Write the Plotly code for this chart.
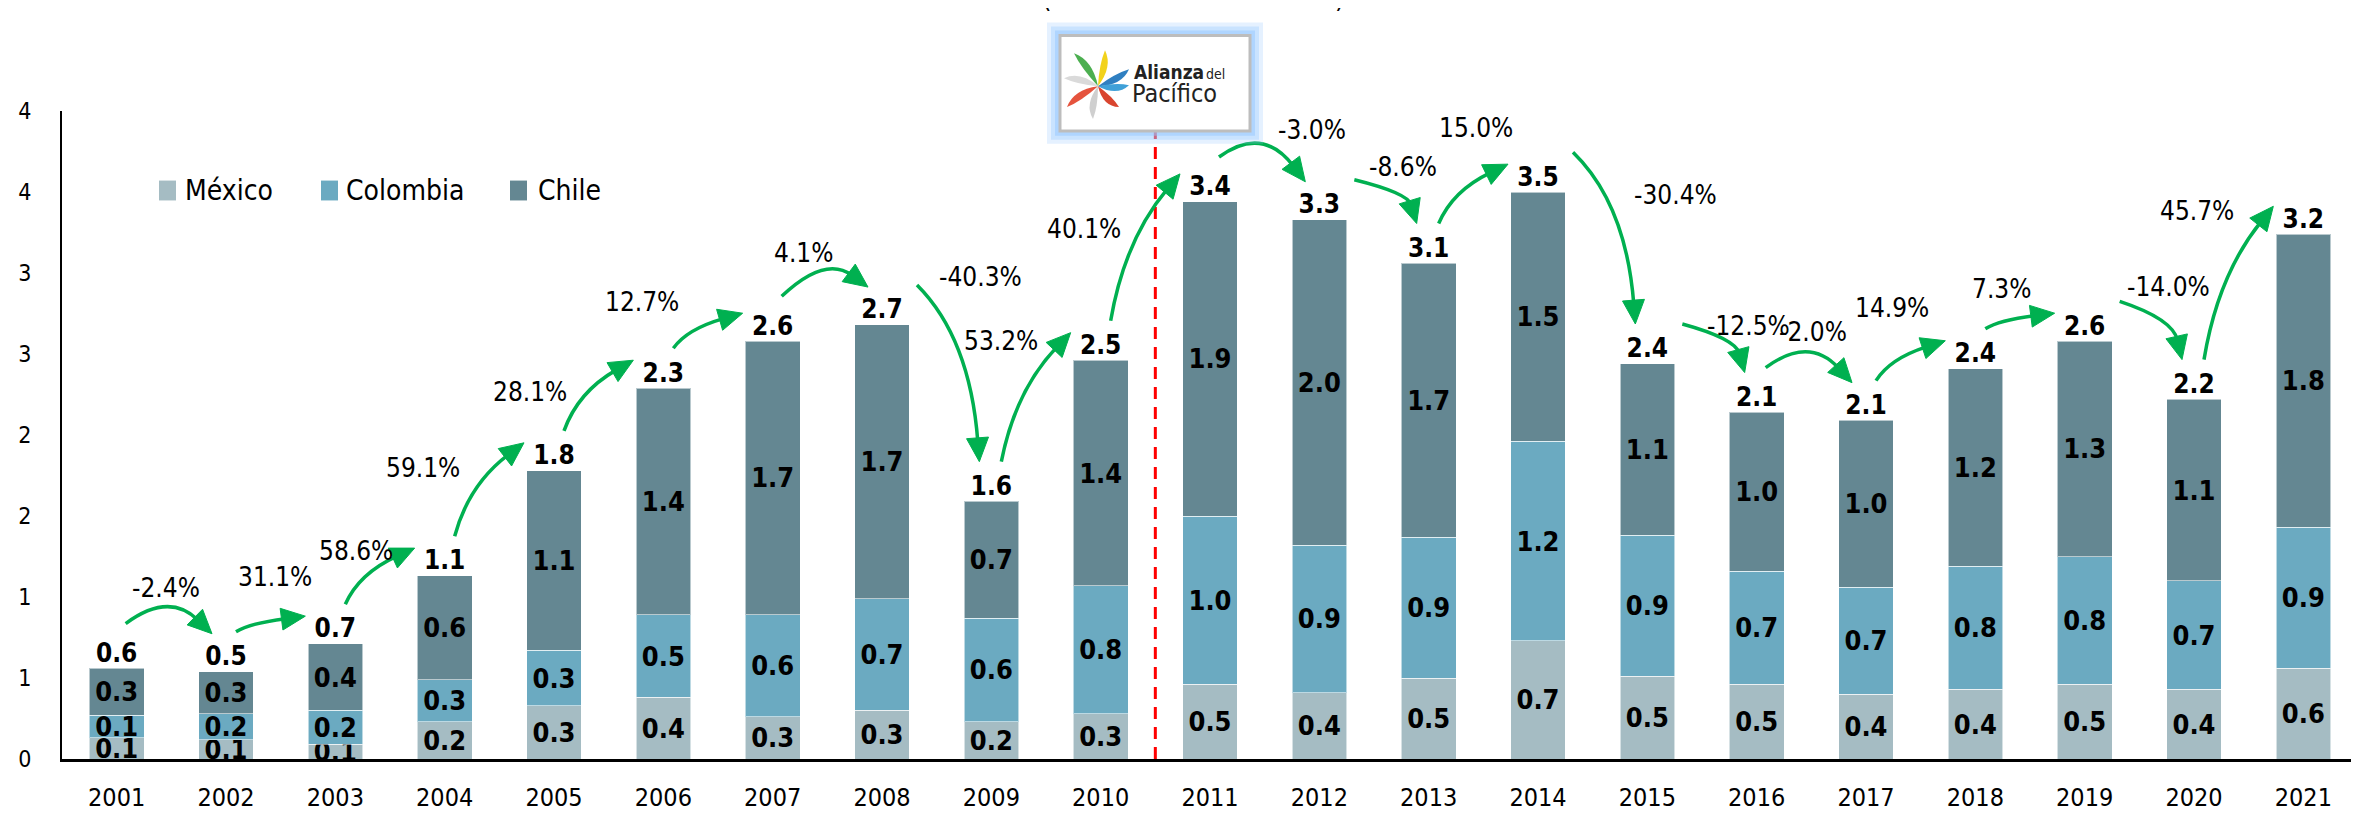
import math
import plotly.graph_objects as go

# ---------------- data ----------------
years = list(range(2001, 2022))
series_names = ["México", "Colombia", "Chile"]
mexico = [0.13, 0.12, 0.09, 0.23, 0.33, 0.38, 0.26, 0.30, 0.23, 0.28, 0.46,
          0.41, 0.50, 0.73, 0.51, 0.46, 0.40, 0.43, 0.46, 0.43, 0.56]
colombia = [0.14, 0.16, 0.21, 0.26, 0.34, 0.51, 0.63, 0.69, 0.64, 0.79, 1.04,
            0.91, 0.87, 1.23, 0.87, 0.70, 0.66, 0.76, 0.79, 0.67, 0.87]
chile = [0.29, 0.26, 0.41, 0.64, 1.11, 1.40, 1.69, 1.69, 0.72, 1.39, 1.94,
         2.01, 1.69, 1.54, 1.06, 0.98, 1.03, 1.22, 1.33, 1.12, 1.81]
pct_change = ["-2.4%", "31.1%", "58.6%", "59.1%", "28.1%", "12.7%", "4.1%",
              "-40.3%", "53.2%", "40.1%", "-3.0%", "-8.6%", "15.0%", "-30.4%",
              "-12.5%", "-2.0%", "14.9%", "7.3%", "-14.0%", "45.7%"]
y_tickvals = [0, 0.5, 1, 1.5, 2, 2.5, 3, 3.5, 4]
y_ticktext = ["0", "1", "1", "2", "2", "3", "3", "4", "4"]
alliance_year = 2011

totals = [round(a + b + c, 3) for a, b, c in zip(mexico, colombia, chile)]

# ---------------- layout geometry ----------------
W, H = 2359, 813
ML, MR, MT, MB = 54, 9, 103, 58
PW, PH = W - ML - MR, H - MT - MB
XR = (years[0] - 0.5, years[-1] + 0.5)
YR = (0, 4)


def xpx(x): return ML + (x - XR[0]) / (XR[1] - XR[0]) * PW
def ypx(y): return MT + (YR[1] - y) / (YR[1] - YR[0]) * PH
def xd(px): return XR[0] + (px - ML) / PW * (XR[1] - XR[0])
def yd(py): return YR[1] - (py - MT) / PH * (YR[1] - YR[0])
def xp(px): return (px - ML) / PW
def yp(py): return (H - MB - py) / PH


FONT = "DejaVu Sans Condensed, Liberation Sans Narrow, Arial Narrow, sans-serif"
GREEN = "#00B050"
COLORS = ["#A5BCC3", "#6BAAC1", "#648792"]

fig = go.Figure()
for name, vals, col in zip(series_names, [mexico, colombia, chile], COLORS):
    fig.add_trace(go.Bar(
        x=years, y=vals, name=name, width=0.5,
        marker=dict(color=col, line=dict(color="rgba(255,255,255,0.55)", width=1)),
        texttemplate="%{y:.1f}", textposition="inside", insidetextanchor="middle",
        textangle=0, constraintext="none",
        insidetextfont=dict(family=FONT, size=27, color="black", weight="bold"),
        showlegend=False, hoverinfo="skip"))

fig.add_trace(go.Scatter(
    x=years, y=totals, mode="text", text=[f"{t:.1f}" for t in totals],
    textposition="top center", cliponaxis=False, showlegend=False,
    textfont=dict(family=FONT, size=26, color="black", weight="bold"),
    hoverinfo="skip"))

shapes = []
annotations = []

# separation line (start of the Alianza del Pacífico)
xsep = alliance_year - 0.5
shapes.append(dict(type="line", xref="x", yref="y", x0=xsep, x1=xsep, y0=0, y1=YR[1],
                   line=dict(color="#FF0000", width=3, dash="12px,8px"), layer="above"))

# growth arrows (curved), label offsets relative to arrow start (px)
label_offsets = [(40, -36), (39, -55), (11, -54), (-32, -69), (-34, -39), (-31, -47),
                 (22, -44), (63, -8), (0, -121), (-27, -92), (93, -27), (49, -13),
                 (37, -96), (102, 43), (66, 2), (47, -36), (16, -73), (16, -40),
                 (49, -14), (-7, -150)]
HEAD_L, HEAD_W = 24, 11


def P(pt):
    return f"{xd(pt[0]):.5f},{yd(pt[1]):.5f}"


for i, txt in enumerate(pct_change):
    p = float(txt.strip("%"))
    ca, cb = xpx(years[i]), xpx(years[i + 1])
    la, lb = ypx(totals[i]) - 20, ypx(totals[i + 1]) - 20
    if abs(p) < 5:
        s = (ca + 9, la - 25)
        t = (cb - 14, lb - 18)
        c = ((s[0] + t[0]) / 2, min(s[1], t[1]) - 32)
    elif p > 0:
        s = (ca + 10, la - 20)
        t = (cb - 30, lb - 8)
        c = (s[0] + 0.2 * (t[0] - s[0]), t[1] + 0.45 * (s[1] - t[1]))
    else:
        s = (ca + 35, la - 20)
        t = (cb - 12, lb - 20)
        c = (s[0] + 0.85 * (t[0] - s[0]), s[1] + 0.3 * (t[1] - s[1]))
    dx, dy = t[0] - c[0], t[1] - c[1]
    n = math.hypot(dx, dy)
    ux, uy = dx / n, dy / n
    b = (t[0] - HEAD_L * ux, t[1] - HEAD_L * uy)
    b2 = (t[0] - (HEAD_L - 4) * ux, t[1] - (HEAD_L - 4) * uy)
    shapes.append(dict(type="path", xref="x", yref="y", layer="above",
                       path=f"M{P(s)} Q{P(c)} {P(b2)}",
                       line=dict(color=GREEN, width=3.5), fillcolor="rgba(0,0,0,0)"))
    px_, py_ = -uy, ux
    h1 = (b[0] + HEAD_W * px_, b[1] + HEAD_W * py_)
    h2 = (b[0] - HEAD_W * px_, b[1] - HEAD_W * py_)
    shapes.append(dict(type="path", xref="x", yref="y", layer="above",
                       path=f"M{P(t)} L{P(h1)} L{P(h2)} Z",
                       line=dict(color=GREEN, width=1), fillcolor=GREEN))
    ox, oy = label_offsets[i]
    annotations.append(dict(x=xd(s[0] + ox), y=yd(s[1] + oy), xref="x", yref="y",
                            text=txt, showarrow=False, xanchor="center", yanchor="middle",
                            font=dict(family=FONT, size=26, color="black")))

# custom legend
legend_items = [(151, 178), (313, 339), (502, 531)]
for (sq, tx), name, col in zip(legend_items, series_names, COLORS):
    shapes.append(dict(type="rect", xref="paper", yref="paper",
                       x0=xp(sq), x1=xp(sq + 17), y0=yp(193), y1=yp(173),
                       fillcolor=col, line=dict(width=0)))
    annotations.append(dict(x=xp(tx - 3), y=yp(183), xref="paper", yref="paper",
                            text=name, showarrow=False, xanchor="left", yanchor="middle",
                            font=dict(family=FONT, size=28, color="black")))

# logo box (glow + frame)
for pad, alpha in [(13, 0.25), (9, 0.35), (5, 0.5)]:
    shapes.append(dict(type="rect", xref="paper", yref="paper", layer="above",
                       x0=xp(1052 - pad), x1=xp(1242 + pad), y0=yp(123 + pad), y1=yp(27 - pad),
                       fillcolor=f"rgba(150,200,255,{alpha})", line=dict(width=0)))
shapes.append(dict(type="rect", xref="paper", yref="paper", layer="above",
                   x0=xp(1052), x1=xp(1242), y0=yp(123), y1=yp(27),
                   fillcolor="white", line=dict(color="#BDBDBD", width=3)))

# logo fan (petals)
cx0, cy0 = 1090, 78
petals = [((1066, 45), "#4CAF50"), ((1097, 42), "#F2D21B"), ((1121, 61), "#2F7FC1"),
          ((1121, 77), "#3FA0D8"), ((1056, 70), "#DADADA"), ((1059, 99), "#E5533D"),
          ((1111, 99), "#D9452F"), ((1085, 111), "#CFCFCF")]
for (tx_, ty_), col in petals:
    dx, dy = tx_ - cx0, ty_ - cy0
    L = math.hypot(dx, dy)
    nx, ny = -dy / L, dx / L
    m1 = (cx0 + 0.6 * dx + 11 * nx, cy0 + 0.6 * dy + 11 * ny)
    m2 = (cx0 + 0.6 * dx - 3 * nx, cy0 + 0.6 * dy - 3 * ny)
    path = (f"M{xp(cx0):.5f},{yp(cy0):.5f} Q{xp(m1[0]):.5f},{yp(m1[1]):.5f} "
            f"{xp(tx_):.5f},{yp(ty_):.5f} Q{xp(m2[0]):.5f},{yp(m2[1]):.5f} "
            f"{xp(cx0):.5f},{yp(cy0):.5f} Z")
    shapes.append(dict(type="path", xref="paper", yref="paper", layer="above",
                       path=path, fillcolor=col, line=dict(width=0)))

annotations.append(dict(x=xp(1124), y=yp(64), xref="paper", yref="paper", text="<b>Alianza</b>",
                        showarrow=False, xanchor="left", yanchor="middle",
                        font=dict(family=FONT, size=19, color="#222222")))
annotations.append(dict(x=xp(1196), y=yp(66), xref="paper", yref="paper", text="del",
                        showarrow=False, xanchor="left", yanchor="middle",
                        font=dict(family=FONT, size=14, color="#222222")))
annotations.append(dict(x=xp(1122), y=yp(85), xref="paper", yref="paper", text="Pacífico",
                        showarrow=False, xanchor="left", yanchor="middle",
                        font=dict(family=FONT, size=25, color="#222222")))

# clipped title remnants (parentheses at the top edge)
for xx, ch in [(1038, "("), (1331, ")")]:
    annotations.append(dict(x=xp(xx), y=yp(6), xref="paper", yref="paper", text=ch,
                            showarrow=False, xanchor="center", yanchor="bottom",
                            font=dict(family=FONT, size=27, color="black")))

fig.update_layout(
    width=W, height=H, barmode="stack",
    margin=dict(l=ML, r=MR, t=MT, b=MB, pad=0),
    paper_bgcolor="white", plot_bgcolor="white",
    font=dict(family=FONT, color="black"),
    shapes=shapes, annotations=annotations, showlegend=False,
    xaxis=dict(range=list(XR), tickvals=years, ticktext=[str(y) for y in years],
               showline=True, linecolor="black", linewidth=3, ticks="",
               showgrid=False, zeroline=False, ticklabelstandoff=14,
               tickfont=dict(family=FONT, size=25, color="black")),
    yaxis=dict(range=list(YR), tickvals=y_tickvals, ticktext=y_ticktext,
               showline=True, linecolor="black", linewidth=2, ticks="",
               showgrid=False, zeroline=False, ticklabelstandoff=24,
               tickfont=dict(family=FONT, size=23, color="black")),
)

fig.write_html("out.html")
